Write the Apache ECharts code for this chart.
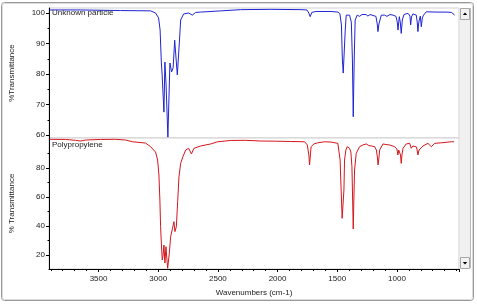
<!DOCTYPE html>
<html>
<head>
<meta charset="utf-8">
<script src="https://cdn.jsdelivr.net/npm/echarts@6/dist/echarts.min.js"></script>
<style>
html,body{margin:0;padding:0;background:#fff;}
#chart{width:477px;height:305px;}
</style>
</head>
<body>
<div id="chart"></div>
<script>
// ---- data ----
const xLabelValues = [3500, 3000, 2500, 2000, 1500, 1000];
const xMinorValues = [500,600,700,800,900,1100,1200,1300,1400,1600,1700,1800,1900,2100,2200,2300,2400,2600,2700,2800,2900,3100,3200,3300,3400,3600,3700,3800,3900];
const topTickLabels = [60, 70, 80, 90, 100];
const topMinorTicks = [65, 75, 85, 95];
const bottomTickLabels = [20, 40, 60, 80];
const bottomMinorTicks = [30, 50, 70, 90];

const unknownName = "Unknown particle";
const unknownWn = [3911,3651,3315,3064,3022,2997,2984,2974,2967,2957,2952,2944,2934,2919,2902,2888,2875,2862,2840,2823,2812,2787,2745,2714,2686,2644,2476,2309,2057,1805,1755,1738,1727,1713,1679,1553,1495,1478,1465,1457,1450,1442,1433,1425,1397,1382,1373,1366,1358,1350,1333,1313,1293,1281,1260,1243,1226,1201,1176,1165,1159,1151,1131,1103,1084,1058,1033,1008,997,991,985,980,972,964,955,941,907,891,885,878,866,838,830,824,817,804,796,787,777,754,673,589,544,530,516];
const unknownT = [101.0,101.0,100.8,100.7,100.0,98.4,94.4,83.9,79.7,71.5,67.5,83.9,76.4,59.3,83.6,80.7,82.0,91.1,79.7,90.2,97.7,99.7,100.0,99.3,100.2,100.3,100.7,101.1,101.2,101.1,101.0,100.0,98.8,100.2,100.5,100.5,100.3,99.8,96.1,84.6,80.3,80.7,94.4,99.3,99.3,97.0,84.6,66.0,84.6,97.7,99.3,98.9,99.5,99.0,99.5,99.0,99.5,99.2,98.9,96.4,93.9,96.4,99.3,99.3,98.9,99.5,99.3,98.9,97.0,94.4,97.0,98.8,97.0,93.3,97.7,99.5,99.9,99.0,96.1,98.7,99.7,99.3,97.0,93.9,97.0,99.0,95.5,98.4,99.3,100.4,100.3,100.3,100.2,99.8,99.3];

const ppName = "Polypropylene";
const ppWn = [3911,3777,3693,3651,3609,3483,3357,3273,3215,3106,3064,3022,3005,2994,2986,2980,2971,2966,2959,2952,2944,2935,2928,2921,2907,2896,2882,2868,2860,2848,2837,2826,2812,2793,2770,2745,2722,2700,2644,2560,2502,2392,2267,2141,2015,1889,1774,1751,1738,1732,1725,1719,1696,1663,1606,1553,1495,1476,1466,1459,1450,1444,1439,1428,1417,1397,1386,1377,1371,1366,1361,1355,1341,1313,1285,1257,1235,1215,1187,1172,1163,1158,1151,1145,1117,1092,1061,1019,1000,992,985,977,970,964,958,949,922,893,880,866,851,836,828,824,815,810,782,740,712,684,628,544,521];
const ppT = [99.8,99.7,99.1,98.6,99.3,99.7,99.8,99.3,98.1,97.2,94.7,91.0,85.5,75.2,57.9,39.5,23.4,16.6,20.0,26.9,14.5,25.7,17.9,10.8,21.2,32.6,33.8,43.0,36.1,39.5,56.8,74.0,83.2,87.8,92.4,93.6,89.7,93.6,95.2,96.6,98.1,99.0,99.1,98.6,98.5,98.3,98.1,95.9,89.0,82.1,89.0,94.7,96.6,97.4,98.1,97.9,97.0,85.5,61.4,45.3,44.1,64.8,85.5,92.4,94.7,93.6,91.0,80.9,57.9,37.9,57.9,78.6,90.1,94.7,95.9,96.6,95.5,95.2,94.7,92.4,86.9,82.1,86.9,92.4,96.6,96.2,95.9,94.7,93.1,89.0,92.4,93.6,89.0,83.2,89.0,93.6,96.6,97.0,93.6,95.2,95.9,94.5,91.0,89.0,92.4,93.6,95.2,97.0,94.7,97.0,97.4,98.1,98.1];

const xTitle = "Wavenumbers (cm-1)";
const topYTitle = "%Transmittance";
const bottomYTitle = "% Transmittance";

// ---- chart ----
const font = "'Liberation Sans', Arial, sans-serif";
const textColor = "#222";
const chart = echarts.init(document.getElementById('chart'), null, {renderer: 'canvas'});

const G = {left: 49, width: 410};
const xMin = 480, xMax = 3915;
const plain = v => String(v);

function xAxisBase(gridIndex) {
  return {type: 'value', gridIndex, position: 'bottom', inverse: true, min: xMin, max: xMax,
    splitLine: {show: false}, axisLine: {show: false}, axisTick: {show: false}, axisLabel: {show: false}};
}

const option = {
  animation: false,
  backgroundColor: '#ffffff',
  grid: [
    {left: G.left, width: G.width, top: 8, height: 130, show: true, borderColor: '#cfcfcf', borderWidth: 1, backgroundColor: '#fff'},
    {left: G.left, width: G.width, top: 138, height: 131, show: true, borderColor: '#cfcfcf', borderWidth: 1, backgroundColor: '#fff'}
  ],
  xAxis: [
    xAxisBase(0),
    Object.assign(xAxisBase(1), {
      axisLine: {show: true, onZero: false, lineStyle: {color: '#000', width: 1}},
      axisTick: {show: true, inside: false, length: 3, customValues: xLabelValues.concat([xMin]), lineStyle: {color: '#000'}},
      axisLabel: {show: true, customValues: xLabelValues, formatter: plain, margin: 6, fontSize: 8, color: textColor, fontFamily: font},
      name: xTitle, nameLocation: 'middle', nameGap: 20,
      nameTextStyle: {fontSize: 8, color: textColor, fontFamily: font}
    }),
    Object.assign(xAxisBase(1), {
      axisTick: {show: true, inside: false, length: 2, customValues: xMinorValues, lineStyle: {color: '#000'}}
    })
  ],
  yAxis: [
    {type: 'value', gridIndex: 0, position: 'left', min: 59.02, max: 101.64,
      splitLine: {show: false},
      axisLine: {show: true, onZero: false, lineStyle: {color: '#000'}},
      axisTick: {show: true, length: 3, customValues: topTickLabels, lineStyle: {color: '#000'}},
      axisLabel: {customValues: topTickLabels, formatter: plain, margin: 4, fontSize: 8, color: textColor, fontFamily: font},
      name: topYTitle, nameLocation: 'middle', nameGap: 33, nameRotate: 90,
      nameTextStyle: {fontSize: 8, color: textColor, fontFamily: font}},
    {type: 'value', gridIndex: 0, position: 'left', min: 59.02, max: 101.64,
      splitLine: {show: false}, axisLine: {show: false},
      axisTick: {show: true, length: 1.5, customValues: topMinorTicks, lineStyle: {color: '#000'}},
      axisLabel: {show: false}},
    {type: 'value', gridIndex: 1, position: 'left', min: 10.34, max: 100.7,
      splitLine: {show: false},
      axisLine: {show: true, onZero: false, lineStyle: {color: '#000'}},
      axisTick: {show: true, length: 3, customValues: bottomTickLabels, lineStyle: {color: '#000'}},
      axisLabel: {customValues: bottomTickLabels, formatter: plain, margin: 4, fontSize: 8, color: textColor, fontFamily: font},
      name: bottomYTitle, nameLocation: 'middle', nameGap: 33, nameRotate: 90,
      nameTextStyle: {fontSize: 8, color: textColor, fontFamily: font}},
    {type: 'value', gridIndex: 1, position: 'left', min: 10.34, max: 100.7,
      splitLine: {show: false}, axisLine: {show: false},
      axisTick: {show: true, length: 1.5, customValues: bottomMinorTicks, lineStyle: {color: '#000'}},
      axisLabel: {show: false}}
  ],
  title: [
    {text: unknownName, left: 52, top: 9, padding: 0, textStyle: {fontSize: 8, fontWeight: 'normal', color: textColor, fontFamily: font}},
    {text: ppName, left: 52, top: 141, padding: 0, textStyle: {fontSize: 8, fontWeight: 'normal', color: textColor, fontFamily: font}}
  ],
  series: [
    {type: 'line', name: unknownName, xAxisIndex: 0, yAxisIndex: 0, showSymbol: false, symbol: 'none',
      lineStyle: {color: '#1f24d2', width: 1}, clip: true,
      data: unknownWn.map((w, i) => [w, unknownT[i]])},
    {type: 'line', name: ppName, xAxisIndex: 1, yAxisIndex: 2, showSymbol: false, symbol: 'none',
      lineStyle: {color: '#d4161c', width: 1}, clip: true,
      data: ppWn.map((w, i) => [w, ppT[i]])}
  ],
  graphic: [
    {type: 'rect', shape: {x: 1.5, y: 2.5, width: 472, height: 298, r: 3}, style: {fill: null, stroke: '#9a9a9a', lineWidth: 1}, silent: true},
    {type: 'rect', shape: {x: 2.5, y: 3.5, width: 470, height: 296, r: 2}, style: {fill: null, stroke: '#dcdcdc', lineWidth: 1}, silent: true},
    {type: 'rect', shape: {x: 460, y: 8, width: 10, height: 260}, style: {fill: '#f0f0f0', stroke: null}, silent: true},
    {type: 'line', shape: {x1: 470.5, y1: 8, x2: 470.5, y2: 268}, style: {stroke: '#b8b8b8', lineWidth: 1}, silent: true},
    {type: 'rect', shape: {x: 460.5, y: 8.5, width: 9, height: 11}, style: {fill: '#f2f2f2', stroke: '#a8a8a8', lineWidth: 1}, silent: true},
    {type: 'polygon', shape: {points: [[465, 12.5], [462.8, 15], [467.2, 15]]}, style: {fill: '#000'}, silent: true},
    {type: 'rect', shape: {x: 460.5, y: 257.5, width: 9, height: 11}, style: {fill: '#f2f2f2', stroke: '#a8a8a8', lineWidth: 1}, silent: true},
    {type: 'polygon', shape: {points: [[462.8, 262], [467.2, 262], [465, 264.5]]}, style: {fill: '#000'}, silent: true}
  ]
};
chart.setOption(option);
</script>
</body>
</html>
